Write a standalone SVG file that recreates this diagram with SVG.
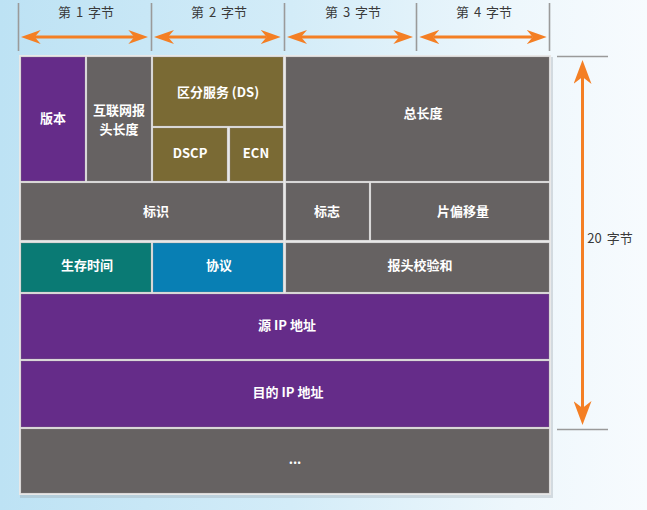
<svg xmlns="http://www.w3.org/2000/svg" width="647" height="510" viewBox="0 0 647 510">
<defs>
<linearGradient id="bg" x1="0" y1="0" x2="1" y2="0">
<stop offset="0" stop-color="#bde2f4"/>
<stop offset="0.45" stop-color="#d3ecf8"/>
<stop offset="0.8" stop-color="#eef7fc"/>
<stop offset="1" stop-color="#f7fbfe"/>
</linearGradient>
<marker id="ah" viewBox="0 0 20 14" refX="6" refY="7" markerWidth="20" markerHeight="14" markerUnits="userSpaceOnUse" orient="auto-start-reverse">
<path d="M0,0 L20,7 L0,14 L6,7 z" fill="#f47f24"/>
</marker>
<marker id="ahv" viewBox="0 0 24 18" refX="7" refY="9" markerWidth="24" markerHeight="18" markerUnits="userSpaceOnUse" orient="auto-start-reverse">
<path d="M0,0 L24,9 L0,18 L7,9 z" fill="#f47f24"/>
</marker>
</defs>
<style>
.cell{stroke:#8a8686;stroke-opacity:0.35;stroke-width:1}
.purple{fill:#652c89}
.gray{fill:#666262}
.olive{fill:#7a6a34}
.teal{fill:#0a7a74}
.blue{fill:#087fb4}
.lbl{font-family:"Noto Sans CJK SC","Liberation Sans",sans-serif;font-size:13px;font-weight:bold;fill:#ffffff;text-anchor:middle;dominant-baseline:central}
.hdr{font-family:"Noto Sans CJK SC","Liberation Sans",sans-serif;font-size:13px;fill:#3a3a3a;text-anchor:middle;dominant-baseline:central;word-spacing:2px}
.tick{stroke:#9a9a9a;stroke-width:1.6}
.arr{stroke:#f47f24;stroke-width:3;fill:none}
</style>
<rect x="0" y="0" width="647" height="510" fill="url(#bg)"/>
<rect x="20" y="57" width="533" height="441" fill="#9aa3a8" opacity="0.35"/>
<rect x="19" y="55" width="532" height="440" fill="#e8e8e8"/>

<g id="header">
<line class="tick" x1="18.5" y1="3" x2="18.5" y2="51"/>
<line class="tick" x1="151.5" y1="3" x2="151.5" y2="51"/>
<line class="tick" x1="284.5" y1="3" x2="284.5" y2="51"/>
<line class="tick" x1="416.5" y1="3" x2="416.5" y2="51"/>
<line class="tick" x1="549.5" y1="3" x2="549.5" y2="51"/>
<line class="tick" x1="557" y1="56.5" x2="608" y2="56.5"/>
<line class="tick" x1="557" y1="429.5" x2="608" y2="429.5"/>
<text class="hdr" x="86" y="11">第 1 字节</text>
<text class="hdr" x="219" y="11">第 2 字节</text>
<text class="hdr" x="353" y="11">第 3 字节</text>
<text class="hdr" x="484" y="11">第 4 字节</text>
<text class="hdr" x="610" y="237">20 字节</text>
</g>

<g id="connectors">
<line class="arr" x1="34.7" y1="37" x2="134.3" y2="37" marker-start="url(#ah)" marker-end="url(#ah)"/>
<line class="arr" x1="168" y1="37" x2="266.7" y2="37" marker-start="url(#ah)" marker-end="url(#ah)"/>
<line class="arr" x1="301" y1="37" x2="399.3" y2="37" marker-start="url(#ah)" marker-end="url(#ah)"/>
<line class="arr" x1="433.3" y1="37" x2="532.7" y2="37" marker-start="url(#ah)" marker-end="url(#ah)"/>
<line class="arr" x1="582.5" y1="77" x2="582.5" y2="408" marker-start="url(#ahv)" marker-end="url(#ahv)"/>
</g>

<g id="version"><rect class="cell purple" x="21" y="57" width="64" height="124"/><text class="lbl" x="53" y="117">版本</text></g>
<g id="ihl"><rect class="cell gray" x="87" y="57" width="64" height="124"/><text class="lbl" x="119" y="109">互联网报</text><text class="lbl" x="119" y="128">头长度</text></g>
<g id="ds"><rect class="cell olive" x="153" y="57" width="130" height="69"/><text class="lbl" x="218" y="91">区分服务 (DS)</text></g>
<g id="dscp"><rect class="cell olive" x="153" y="128" width="74" height="53"/><text class="lbl" x="190" y="152">DSCP</text></g>
<g id="ecn"><rect class="cell olive" x="230" y="128" width="53" height="53"/><text class="lbl" x="256" y="152">ECN</text></g>
<g id="total-length"><rect class="cell gray" x="286" y="57" width="263" height="124"/><text class="lbl" x="423" y="112">总长度</text></g>

<g id="identification"><rect class="cell gray" x="21" y="183" width="262" height="57"/><text class="lbl" x="156" y="210">标识</text></g>
<g id="flags"><rect class="cell gray" x="286" y="183" width="83" height="57"/><text class="lbl" x="327" y="210">标志</text></g>
<g id="fragment-offset"><rect class="cell gray" x="371" y="183" width="178" height="57"/><text class="lbl" x="463" y="210">片偏移量</text></g>

<g id="ttl"><rect class="cell teal" x="21" y="243" width="130" height="49"/><text class="lbl" x="87" y="264">生存时间</text></g>
<g id="protocol"><rect class="cell blue" x="153" y="243" width="130" height="49"/><text class="lbl" x="219" y="264">协议</text></g>
<g id="checksum"><rect class="cell gray" x="286" y="243" width="263" height="49"/><text class="lbl" x="420" y="264">报头校验和</text></g>

<g id="src-ip"><rect class="cell purple" x="21" y="294" width="528" height="65"/><text class="lbl" x="287" y="324">源 IP 地址</text></g>
<g id="dst-ip"><rect class="cell purple" x="21" y="361" width="528" height="66"/><text class="lbl" x="288" y="391">目的 IP 地址</text></g>
<g id="more"><rect class="cell gray" x="21" y="429" width="528" height="64"/><text class="lbl" x="295" y="458">...</text></g>
</svg>
